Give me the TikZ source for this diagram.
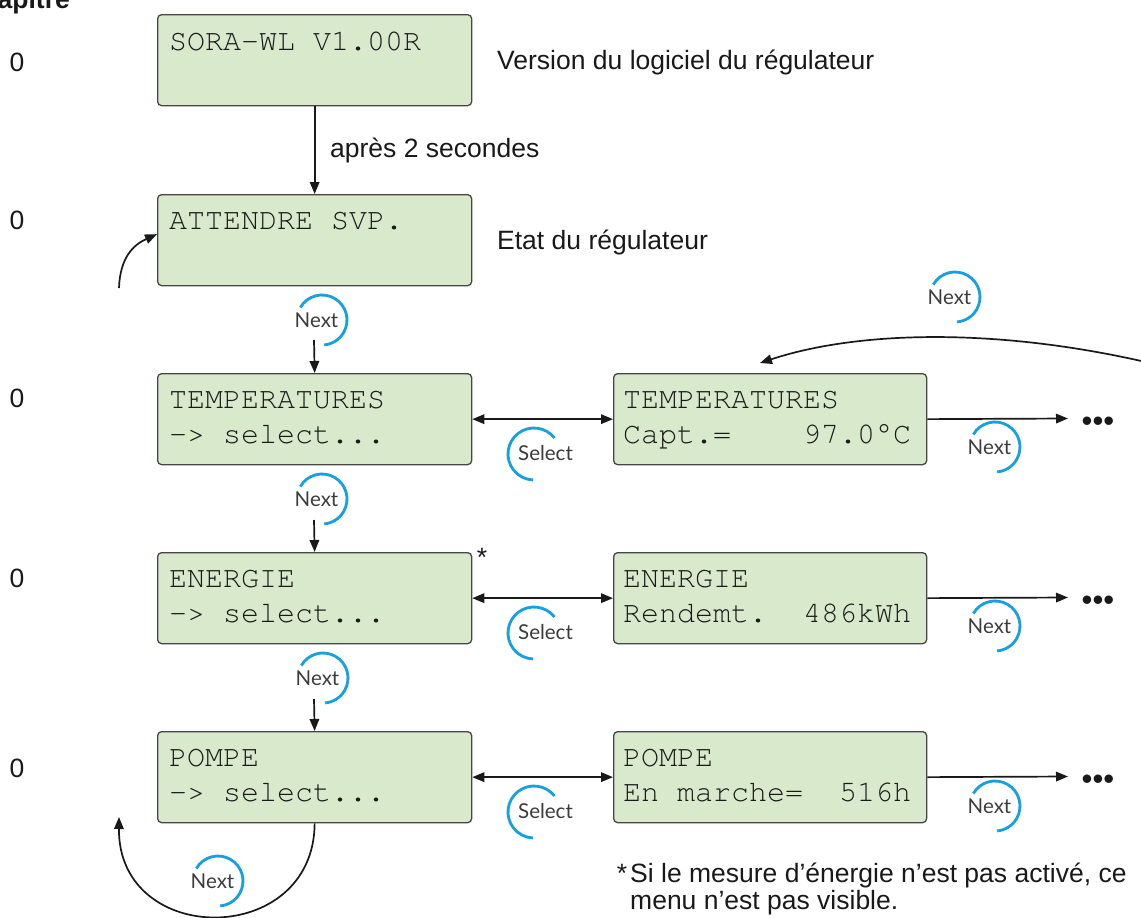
\documentclass[tikz,border=0pt]{standalone}
\usepackage{fontspec}
\setmainfont{Liberation Sans}
\newfontfamily\iconfont{Lato}
\newfontfamily\lcdfont{TeX Gyre Cursor}
\usepackage{graphicx}
\usetikzlibrary{arrows.meta,calc}
\definecolor{lcdfill}{RGB}{217,234,204}
\definecolor{lcdedge}{RGB}{70,70,70}
\definecolor{iconblue}{RGB}{20,160,225}
\definecolor{ink}{RGB}{25,25,25}
\definecolor{icontext}{RGB}{60,60,60}
\newcommand{\lcdtext}[1]{{\fontsize{30}{30}\selectfont\lcdfont #1}}
\newcommand{\nexticon}[3]{%
  \coordinate (#1c) at (#2,#3);
  \draw[ring] ($(#1c)+(-150:25)$) arc[start angle=-150,end angle=85,radius=25];
  \node[icon] (#1) at ($(#1c)+(-5.5,0)$) {Next};
}
\newcommand{\selecticon}[3]{%
  \coordinate (#1c) at (#2,#3);
  \draw[ring] ($(#1c)+(-38:26)$) arc[start angle=-38,end angle=-268,radius=26];
  \node[icon] (#1) at ($(#1c)+(11.5,-1)$) {Select};
}
\begin{document}
\begin{tikzpicture}[x=1pt,y=-1pt,
  lcdbox/.style={draw=lcdedge, fill=lcdfill, line width=1.3pt, rounded corners=4pt,
    minimum width=314pt, minimum height=91pt, inner sep=0pt, anchor=north west},
  lcdrow/.style={anchor=base west, inner sep=0pt, text=ink},
  lbl/.style={font=\fontsize{26.5}{27}\selectfont, text=ink, inner sep=0pt},
  arr/.style={draw=ink, line width=1.7pt, -{Triangle[length=12pt,width=9.5pt]}},
  darr/.style={draw=ink, line width=1.7pt, {Triangle[length=12pt,width=9.5pt]}-{Triangle[length=12pt,width=9.5pt]}},
  icon/.style={font=\iconfont\fontsize{20.5}{21}\selectfont, text=icontext, inner sep=0pt},
  ring/.style={draw=iconblue, line width=2.8pt},
  dots/.style={font=\fontsize{31}{31}\selectfont, text=ink, inner sep=0pt},
]
\useasboundingbox (0,0) rectangle (1141,918);

% chapter column
\node[lbl, font=\bfseries\fontsize{26.5}{27}\selectfont, anchor=base east] (chap) at (70,9) {Chapitre};
\node[lbl, anchor=base] (c1) at (17,71.5) {0};
\node[lbl, anchor=base] (c2) at (17,229.5) {0};
\node[lbl, anchor=base] (c3) at (17,407.5) {0};
\node[lbl, anchor=base] (c4) at (17,587.5) {0};
\node[lbl, anchor=base] (c5) at (17,777.5) {0};

% boxes
\node[lcdbox] (b1) at (157,14) {};
\node[lcdbox] (b2) at (157,194) {};
\node[lcdbox] (b3) at (157,373) {};
\node[lcdbox] (b4) at (157,552) {};
\node[lcdbox] (b5) at (157,731) {};
\node[lcdbox, minimum width=313pt] (r3) at (613,373) {};
\node[lcdbox, minimum width=313pt] (r4) at (613,552) {};
\node[lcdbox, minimum width=313pt] (r5) at (613,731) {};

% box texts
\node[lcdrow] (t1a) at ($(b1.north west)+(12,36)$) {\lcdtext{SORA-WL V1.00R}};
\node[lcdrow] (t2a) at ($(b2.north west)+(12,35.5)$) {\lcdtext{ATTENDRE SVP.}};
\node[lcdrow] (t3a) at ($(b3.north west)+(12,35.5)$) {\lcdtext{TEMPERATURES}};
\node[lcdrow] (t3b) at ($(b3.north west)+(12,70.5)$) {\lcdtext{->~select...}};
\node[lcdrow] (t4a) at ($(b4.north west)+(12,35.5)$) {\lcdtext{ENERGIE}};
\node[lcdrow] (t4b) at ($(b4.north west)+(12,70.5)$) {\lcdtext{->~select...}};
\node[lcdrow] (t5a) at ($(b5.north west)+(12,35.5)$) {\lcdtext{POMPE}};
\node[lcdrow] (t5b) at ($(b5.north west)+(12,70.5)$) {\lcdtext{->~select...}};
\node[lcdrow] (u3a) at ($(r3.north west)+(10,35.5)$) {\lcdtext{TEMPERATURES}};
\node[lcdrow] (u3b) at ($(r3.north west)+(10,70.5)$) {\lcdtext{Capt.=~~~~97.0°C}};
\node[lcdrow] (u4a) at ($(r4.north west)+(10,35.5)$) {\lcdtext{ENERGIE}};
\node[lcdrow] (u4b) at ($(r4.north west)+(10,70.5)$) {\lcdtext{Rendemt.~~486kWh}};
\node[lcdrow] (u5a) at ($(r5.north west)+(10,35.5)$) {\lcdtext{POMPE}};
\node[lcdrow] (u5b) at ($(r5.north west)+(10,70.5)$) {\lcdtext{En~marche=~~516h}};

% side labels
\node[lbl, anchor=base west] (ver) at (497,69.5) {Version du logiciel du régulateur};
\node[lbl, anchor=base west] (apres) at (330,157) {après 2 secondes};
\node[lbl, anchor=base west] (etat) at (497,249.5) {Etat du régulateur};
\node[lbl, anchor=base] (star) at (482,566) {*};
\node[lbl, anchor=base west, align=left] (fn) at (630,909)
  {\llap{*\hspace{3pt}}Si le mesure d’énergie n’est pas activé, ce\\menu n’est pas visible.};

% icons
\nexticon{n1}{322}{320}
\nexticon{n2}{322}{499}
\nexticon{n3}{323}{678}
\nexticon{m3}{995}{447}
\nexticon{m4}{995}{626}
\nexticon{m5}{995}{806}
\nexticon{ntop}{955}{297}
\nexticon{nbot}{218}{881}
\selecticon{s3}{534}{454}
\selecticon{s4}{534}{633}
\selecticon{s5}{534}{812}

% vertical connectors
\draw[arr] (b1.south) -- (b2.north);
\coordinate (a3) at (314,340);
\coordinate (a4) at (314,520);
\coordinate (a5) at (314,699);
\draw[arr] (a3) -- (b3.north);
\draw[arr] (a4) -- (b4.north);
\draw[arr] (a5) -- (b5.north);

% horizontal connectors
\draw[darr] (b3.east) -- (r3.west);
\draw[darr] (b4.east) -- (r4.west);
\draw[darr] (b5.east) -- (r5.west);

\coordinate (e3) at (1068,418.5);
\coordinate (e4) at (1068,597.5);
\coordinate (e5) at (1068,776.5);
\draw[arr] (r3.east) -- (e3);
\draw[arr] (r4.east) -- (e4);
\draw[arr] (r5.east) -- (e5);
\node[dots] (d3) at (1098,424) {•••};
\node[dots] (d4) at (1098,603) {•••};
\node[dots] (d5) at (1098,782) {•••};

% loops
\coordinate (topstart) at (1150,363);
\coordinate (toptip) at (760,363);
\draw[arr] (topstart) .. controls (1000,328) and (860,330) .. (toptip);

\coordinate (wstart) at (119,288);
\draw[arr] (wstart) .. controls (120,258) and (133,245) .. ($(b2.west)+(0,-6)$);

\coordinate (ltip) at (119,817);
\draw[arr] (b5.south) .. controls (314,948) and (118,948) .. (ltip);
\end{tikzpicture}
\end{document}
